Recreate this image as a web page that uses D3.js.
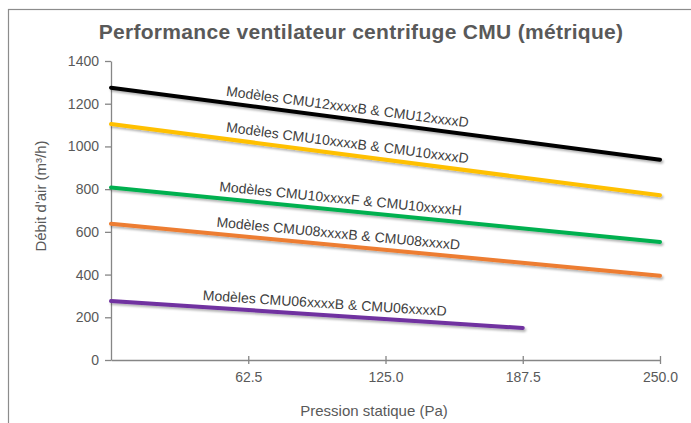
<!DOCTYPE html>
<html>
<head>
<meta charset="utf-8">
<script src="https://cdn.jsdelivr.net/npm/d3@7"></script>
<style>
  body { margin: 0; background: #fff; }
  svg { display: block; font-family: "Liberation Sans", Arial, sans-serif; }
</style>
</head>
<body>
<svg id="chart" width="691" height="423"></svg>
<script>
// values
const xTicks = [0, 62.5, 125, 187.5, 250];
const yTicks = [0, 200, 400, 600, 800, 1000, 1200, 1400];

const seriesNames = [
  "Modèles CMU12xxxxB & CMU12xxxxD",
  "Modèles CMU10xxxxB & CMU10xxxxD",
  "Modèles CMU10xxxxF & CMU10xxxxH",
  "Modèles CMU08xxxxB & CMU08xxxxD",
  "Modèles CMU06xxxxB & CMU06xxxxD"
];
const seriesColors = ["#000000", "#FFC000", "#00B050", "#ED7D31", "#7030A0"];
const pressure = [
  [0, 250],
  [0, 250],
  [0, 250],
  [0, 250],
  [0, 187.5]
];
const airflow = [
  [1275, 938],
  [1105, 771],
  [808, 552],
  [638, 394],
  [276, 150]
];
// pressure where each label sits along its line
const labelAt = [107, 107, 104, 103, 97];

const svg = d3.select("#chart");
const plotLeft = 111, plotRight = 660, plotTop = 61, plotBottom = 360;

const x = d3.scaleLinear().domain([0, 250]).range([plotLeft, plotRight]);
const y = d3.scaleLinear().domain([0, 1400]).range([plotBottom, plotTop]);

// outer frame
svg.append("rect")
  .attr("x", 8.5).attr("y", 9.5)
  .attr("width", 700).attr("height", 430)
  .attr("fill", "none").attr("stroke", "#8c8c8c").attr("stroke-width", 1.2);

// shadow for the lines
const defs = svg.append("defs");
defs.append("filter").attr("id", "shadow")
  .attr("x", "-5%").attr("y", "-50%").attr("width", "110%").attr("height", "200%")
  .append("feDropShadow")
  .attr("dx", 1.5).attr("dy", 2).attr("stdDeviation", 1.2)
  .attr("flood-color", "#000").attr("flood-opacity", 0.3);

// title
svg.append("text")
  .attr("x", 361).attr("y", 39)
  .attr("text-anchor", "middle")
  .attr("font-size", 21).attr("font-weight", "bold")
  .attr("letter-spacing", 0.3)
  .attr("fill", "#595959")
  .text("Performance ventilateur centrifuge CMU (métrique)");

// y axis
const yAxis = svg.append("g")
  .attr("transform", `translate(${plotLeft},0)`)
  .call(d3.axisLeft(y).tickValues(yTicks).tickSize(6).tickSizeOuter(0)
    .tickFormat(d3.format("d")).tickPadding(6));

// x axis
const xAxis = svg.append("g")
  .attr("transform", `translate(0,${plotBottom})`)
  .call(d3.axisBottom(x).tickValues(xTicks.slice(1)).tickSize(4).tickSizeOuter(0)
    .tickFormat(d3.format(".1f")).tickPadding(8));
xAxis.selectAll(".tick line").attr("y1", -4);

[yAxis, xAxis].forEach(a => {
  a.select(".domain").attr("stroke", "#868686").attr("stroke-width", 1.3);
  a.selectAll(".tick line").attr("stroke", "#868686").attr("stroke-width", 1.3);
  a.selectAll(".tick text").attr("fill", "#595959").attr("font-size", 14)
    .attr("font-family", "Liberation Sans, Arial, sans-serif");
});

// axis titles
svg.append("text")
  .attr("transform", "translate(46,196) rotate(-90)")
  .attr("text-anchor", "middle")
  .attr("font-size", 15).attr("fill", "#595959")
  .text("Débit d'air (m³/h)");

svg.append("text")
  .attr("x", 374).attr("y", 416)
  .attr("text-anchor", "middle")
  .attr("font-size", 15).attr("fill", "#595959")
  .text("Pression statique (Pa)");

// lines
const line = d3.line().x(d => x(d[0])).y(d => y(d[1]));

seriesNames.forEach((name, i) => {
  const pts = d3.zip(pressure[i], airflow[i]);
  svg.append("path")
    .datum(pts)
    .attr("d", line)
    .attr("fill", "none")
    .attr("stroke", seriesColors[i])
    .attr("stroke-width", 4)
    .attr("stroke-linecap", "round")
    .attr("filter", "url(#shadow)");

  // label sits along the line, above it
  const x0 = x(pts[0][0]), y0 = y(pts[0][1]);
  const x1 = x(pts[1][0]), y1 = y(pts[1][1]);
  const t = (labelAt[i] - pts[0][0]) / (pts[1][0] - pts[0][0]);
  const lx = x(labelAt[i]);
  const ly = y0 + (y1 - y0) * t;
  const angle = Math.atan2(y1 - y0, x1 - x0) * 180 / Math.PI;
  svg.append("text")
    .attr("transform", `translate(${lx},${ly}) rotate(${angle})`)
    .attr("y", -7)
    .attr("text-anchor", "middle")
    .attr("font-size", 14)
    .attr("fill", "#404040")
    .text(name);
});
</script>
</body>
</html>
